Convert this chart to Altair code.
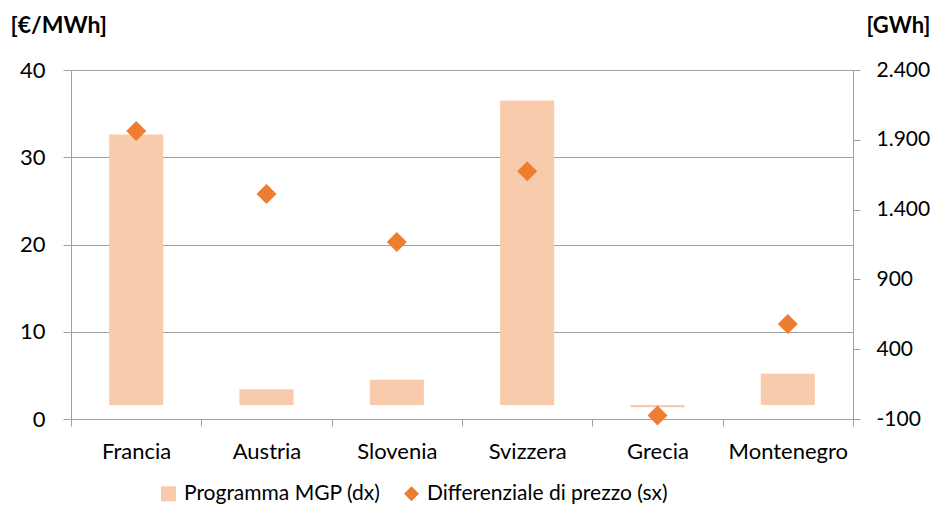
import altair as alt
import pandas as pd

countries = ["Francia", "Austria", "Slovenia", "Svizzera", "Grecia", "Montenegro"]
mgp_gwh = [1938, 114, 181, 2181, -15, 224]
price_diff = [33.0, 25.8, 20.3, 28.4, 0.4, 10.9]
series_names = ["Programma MGP (dx)", "Differenziale di prezzo (sx)"]
series_colors = ["#F8CBAD", "#ED7D31"]
left_ticks = [0, 10, 20, 30, 40]
right_ticks = [-100, 400, 900, 1400, 1900, 2400]

bars_df = pd.DataFrame({"paese": countries, "valore": mgp_gwh, "serie": series_names[0]})
pts_df = pd.DataFrame({"paese": countries, "valore": price_diff, "serie": series_names[1]})

FONT = "Lato"
AX = "#A0A0A0"
FS = 22

x_enc = alt.X(
    "paese:N",
    sort=countries,
    scale=alt.Scale(paddingInner=0, paddingOuter=0),
    axis=alt.Axis(
        title=None, labelAngle=0, tickBand="extent", ticks=True, tickSize=7,
        tickColor=AX, domainColor=AX, labelFontSize=FS, labelBaseline="alphabetic",
        labelPadding=32, grid=False, labelColor="black", labelFont=FONT,
    ),
)

bars = alt.Chart(bars_df).mark_bar(
    color=series_colors[0], width=alt.RelativeBandSize(0.415)
).encode(
    x=x_enc,
    y=alt.Y(
        "valore:Q",
        scale=alt.Scale(domain=[-100, 2400], nice=False, zero=False),
        axis=alt.Axis(
            orient="right", values=right_ticks,
            labelExpr="datum.value >= 1000 ? replace(format(datum.value, ','), ',', '.') : '' + datum.value",
            title="[GWh]", titleAngle=0, titleAlign="left", titleBaseline="alphabetic",
            titleX=13, titleY=-38, titleFontWeight="bold", titleFontSize=22,
            titleFont=FONT, titleColor="black",
            grid=False, tickSize=7, tickColor=AX, domainColor=AX,
            labelPadding=16, labelFontSize=21, labelFont=FONT, labelColor="black",
        ),
    ),
    y2=alt.datum(0),
)

legend = alt.Legend(
    orient="none", direction="horizontal", legendX=87, legendY=413,
    labelFont=FONT, labelFontSize=21, labelColor="black", symbolSize=225,
    symbolStrokeWidth=0, symbolOpacity=1, labelOffset=5, columnPadding=20,
    labelLimit=400,
)

pts = alt.Chart(pts_df).mark_point(filled=True, size=400, opacity=1).encode(
    x=x_enc,
    y=alt.Y(
        "valore:Q",
        scale=alt.Scale(domain=[0, 40], nice=False),
        axis=alt.Axis(
            orient="left", values=left_ticks,
            title="[€/MWh]", titleAngle=0, titleAlign="left", titleBaseline="alphabetic",
            titleX=-61, titleY=-38, titleFontWeight="bold", titleFontSize=23,
            titleFont=FONT, titleColor="black",
            grid=True, gridColor=AX, tickSize=8, tickColor=AX, domainColor=AX,
            labelPadding=18, labelFontSize=FS, labelFont=FONT, labelColor="black",
        ),
    ),
    color=alt.Color("serie:N", scale=alt.Scale(domain=series_names, range=series_colors),
                    legend=legend, title=None),
    shape=alt.Shape("serie:N", scale=alt.Scale(domain=series_names, range=["square", "diamond"]),
                    legend=legend, title=None),
)

chart = alt.layer(bars, pts).resolve_scale(y="independent").properties(
    width=782, height=349,
    autosize=alt.AutoSizeParams(type="none"),
    padding={"left": 63, "top": 62, "right": 79, "bottom": 86},
).configure(font=FONT).configure_view(stroke=None)

chart.save("out.html", embed_options={"renderer": "svg", "actions": False})
